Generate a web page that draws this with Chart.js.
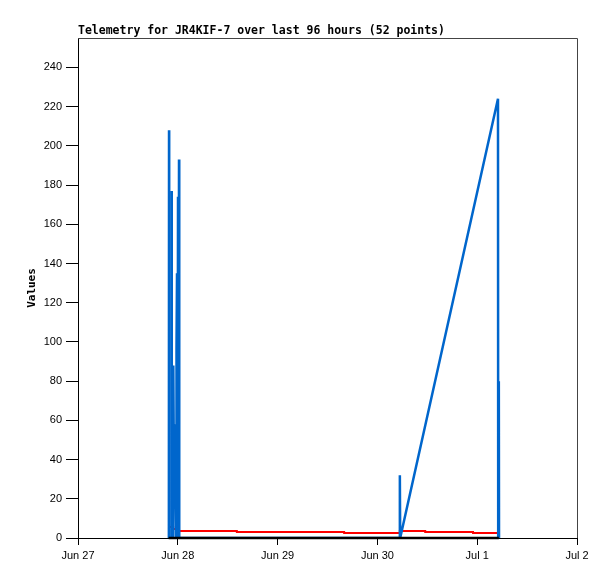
<!DOCTYPE html>
<html>
<head>
<meta charset="utf-8">
<script src="https://cdn.jsdelivr.net/npm/chart.js@4.4.1/dist/chart.umd.min.js"></script>
<style>
html, body { margin: 0; padding: 0; background: #fff; }
</style>
</head>
<body>
<canvas id="telemetryChart" width="615" height="579"></canvas>
<script>
// hours since Jun 27 00:00
const dayLabels = ['Jun 27', 'Jun 28', 'Jun 29', 'Jun 30', 'Jul 1', 'Jul 2'];
const yTicks = [0, 20, 40, 60, 80, 100, 120, 140, 160, 180, 200, 220, 240];

const blueHours = [21.85, 21.89, 21.93, 22.49, 22.53, 22.57, 22.88, 22.92, 23.10, 23.33, 23.50, 23.62, 23.69, 23.81, 23.95, 24.05, 24.17, 24.29, 24.35, 77.35, 77.40, 77.48, 101.00, 101.05, 101.20, 101.25];
const blueValues = [0, 208, 0, 0, 177, 0, 0, 88, 20, 58, 19, 0, 97, 135, 0, 174, 0, 193, 0, 0, 32, 0, 224, 0, 80, 0];

const redHours = [21.9, 22.9, 24.2, 38.2, 64.0, 77.4, 83.5, 95.0, 101.0];
const redValues = [5.6, 4.6, 3.6, 3.1, 2.6, 3.6, 3.1, 2.6, 2.6];

const blackHours = [21.8, 101.2];
const blackValues = [0, 0];

function toPoints(xs, ys) {
    return xs.map((x, i) => ({ x: x, y: ys[i] }));
}

const frame = {
    id: 'frame',
    afterDraw(chart) {
        const { ctx, chartArea } = chart;
        ctx.save();
        ctx.strokeStyle = '#444';
        ctx.lineWidth = 1;
        ctx.beginPath();
        ctx.moveTo(chartArea.left, chartArea.top + 0.5);
        ctx.lineTo(chartArea.right + 0.5, chartArea.top + 0.5);
        ctx.lineTo(chartArea.right + 0.5, chartArea.bottom);
        ctx.stroke();
        ctx.fillStyle = '#000';
        ctx.font = 'bold 11.5px "DejaVu Sans Mono"';
        ctx.textBaseline = 'middle';
        ctx.textAlign = 'left';
        ctx.fillText('Telemetry for JR4KIF-7 over last 96 hours (52 points)', chartArea.left, 31);
        ctx.restore();
    }
};

const ctx = document.getElementById('telemetryChart');
new Chart(ctx, {
    type: 'line',
    data: {
        datasets: [{
            label: 'black',
            data: toPoints(blackHours, blackValues),
            borderColor: '#000',
            borderWidth: 2.5,
            pointRadius: 0,
            clip: false,
            order: 0
        }, {
            label: 'red',
            data: toPoints(redHours, redValues),
            borderColor: '#ff0000',
            borderWidth: 2,
            stepped: true,
            pointRadius: 0,
            order: 2
        }, {
            label: 'blue',
            data: toPoints(blueHours, blueValues),
            borderColor: '#0066cc',
            borderWidth: 2.5,
            borderJoinStyle: 'bevel',
            pointRadius: 0,
            tension: 0,
            order: 1
        }]
    },
    options: {
        responsive: false,
        animation: false,
        devicePixelRatio: 1,
        layout: {
            padding: { left: 0, top: 38, right: 38, bottom: 0 }
        },
        plugins: {
            legend: { display: false },
            tooltip: { enabled: false }
        },
        scales: {
            x: {
                type: 'linear',
                min: 0,
                max: 120,
                afterBuildTicks: scale => {
                    scale.ticks = dayLabels.map((l, i) => ({ value: i * 24 }));
                },
                afterFit: scale => { scale.height = 41; },
                ticks: {
                    callback: value => dayLabels[value / 24],
                    color: '#000',
                    font: { family: 'Liberation Sans', size: 11 },
                    padding: 4,
                    maxRotation: 0
                },
                grid: {
                    drawOnChartArea: false,
                    tickLength: 7,
                    color: '#000'
                },
                border: { color: '#000' }
            },
            y: {
                min: 0,
                max: 255,
                afterBuildTicks: scale => {
                    scale.ticks = yTicks.map(v => ({ value: v }));
                },
                afterFit: scale => { scale.width = 78; },
                ticks: {
                    color: '#000',
                    font: { family: 'Liberation Sans', size: 11 },
                    padding: 4
                },
                grid: {
                    drawOnChartArea: false,
                    tickLength: 12,
                    color: '#000'
                },
                border: { color: '#000' },
                title: {
                    display: true,
                    text: 'Values',
                    color: '#000',
                    font: { family: 'DejaVu Sans Mono', size: 11, weight: 'bold' },
                    padding: { top: 26, bottom: 0 }
                }
            }
        }
    },
    plugins: [frame]
});
</script>
</body>
</html>
